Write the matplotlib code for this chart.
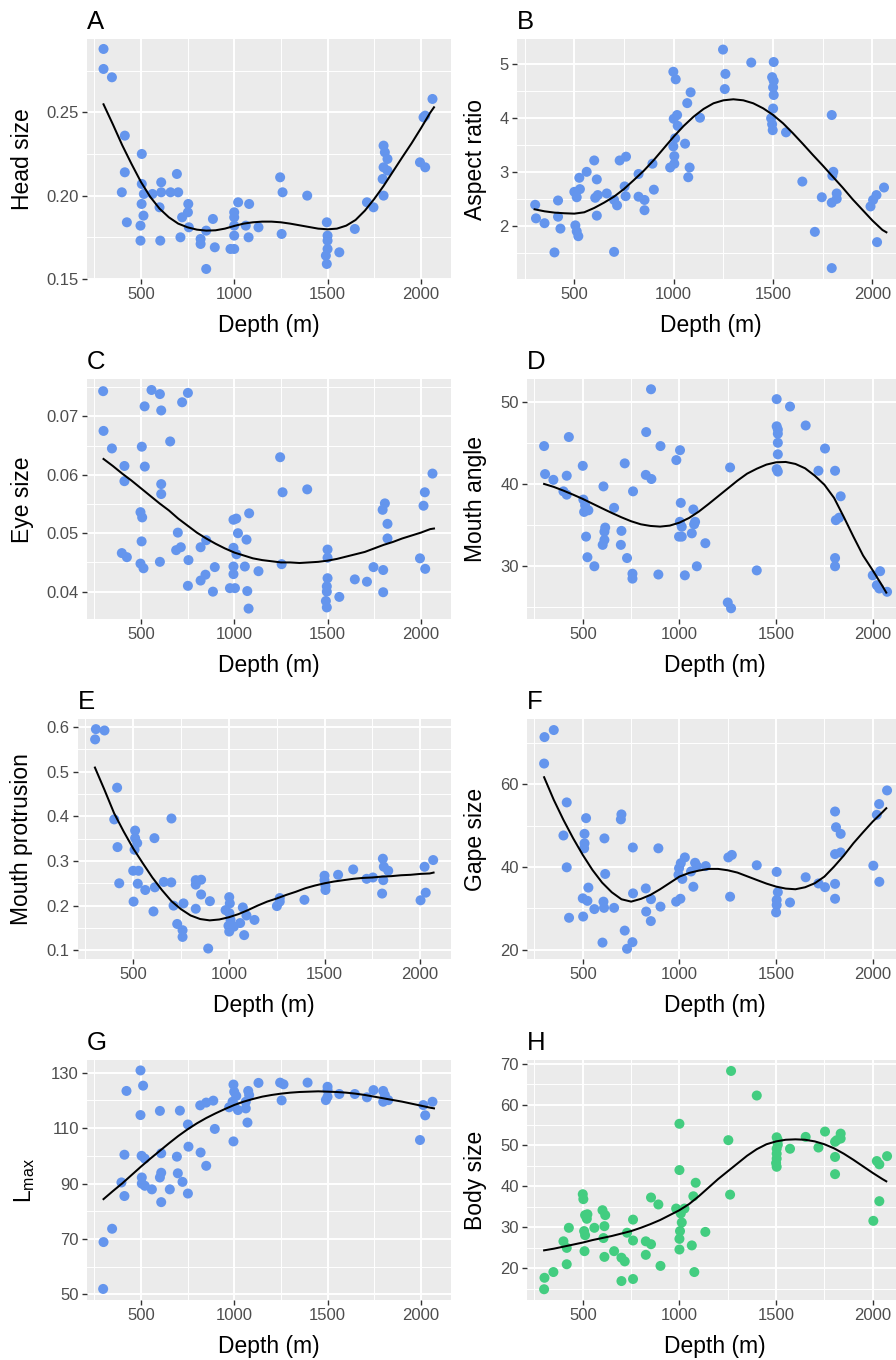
import matplotlib
matplotlib.use("Agg")
import matplotlib.pyplot as plt
from matplotlib.ticker import FixedLocator, FormatStrFormatter

plt.rcParams['font.family'] = ['Liberation Sans', 'DejaVu Sans']

curve_depth = [300, 350, 400, 450, 500, 550, 600, 650, 700, 750,
               800, 850, 900, 950, 1000, 1050, 1100, 1150, 1200, 1250,
               1300, 1350, 1400, 1450, 1500, 1550, 1600, 1650, 1700, 1750,
               1800, 1850, 1900, 1950, 2000, 2050, 2070]

# A - head size
head_depth = [300, 300, 345, 414, 505, 414, 398, 425, 505, 516,
              562, 504, 514, 498, 498, 609, 609, 659, 700, 693,
              600, 604, 754, 752, 721, 757, 712, 820, 820, 850,
              850, 886, 896, 980, 1000, 1000, 1000, 1000, 1000, 1021,
              1080, 1062, 1077, 1130, 1246, 1259, 1254, 1391, 1496, 1500,
              1500, 1500, 1491, 1496, 1563, 1646, 1711, 1746, 1800, 1807,
              1821, 1800, 1821, 1795, 1800, 1995, 2023, 2014, 2023, 2062]
head_size = [0.288, 0.276, 0.271, 0.236, 0.225, 0.214, 0.202, 0.184, 0.207, 0.201,
             0.201, 0.195, 0.188, 0.182, 0.173, 0.208, 0.202, 0.202, 0.202, 0.213,
             0.193, 0.173, 0.195, 0.190, 0.187, 0.181, 0.175, 0.174, 0.171, 0.179,
             0.156, 0.186, 0.169, 0.168, 0.168, 0.190, 0.187, 0.182, 0.176, 0.196,
             0.195, 0.182, 0.175, 0.181, 0.211, 0.202, 0.177, 0.200, 0.184, 0.176,
             0.173, 0.168, 0.164, 0.159, 0.166, 0.180, 0.196, 0.193, 0.230, 0.226,
             0.222, 0.217, 0.215, 0.210, 0.200, 0.220, 0.217, 0.247, 0.248, 0.258]
head_fit = [0.2548, 0.2428, 0.2303, 0.2190, 0.2083, 0.1993, 0.1922, 0.1870, 0.1832, 0.1810,
            0.1796, 0.1790, 0.1792, 0.1802, 0.1818, 0.1832, 0.1840, 0.1844, 0.1844, 0.1840,
            0.1832, 0.1822, 0.1812, 0.1802, 0.1798, 0.1802, 0.1820, 0.1854, 0.1910, 0.1980,
            0.2058, 0.2144, 0.2230, 0.2314, 0.2404, 0.2498, 0.2530]

# B - aspect ratio
aspect_depth = [303, 307, 350, 400, 418, 418, 430, 500, 512, 525,
                528, 505, 512, 520, 562, 600, 613, 605, 618, 613,
                663, 700, 715, 700, 728, 760, 753, 758, 823, 823,
                853, 853, 893, 900, 998, 1010, 1000, 1017, 1020, 1007,
                998, 1003, 1003, 982, 1057, 1068, 1085, 1080, 1073, 1132,
                1248, 1260, 1257, 1390, 1503, 1495, 1503, 1500, 1503, 1500,
                1490, 1495, 1498, 1565, 1647, 1710, 1745, 1795, 1803, 1798,
                1795, 1820, 1820, 1795, 1990, 2003, 2020, 2023, 2058]
aspect_ratio = [2.39, 2.14, 2.05, 1.51, 2.47, 2.17, 1.95, 2.63, 2.53, 2.89,
                2.68, 2.01, 1.90, 1.81, 3.00, 3.21, 2.86, 2.52, 2.57, 2.19,
                2.60, 2.48, 2.38, 1.52, 3.21, 3.28, 2.73, 2.55, 2.96, 2.54,
                2.48, 2.29, 3.15, 2.67, 4.85, 4.71, 3.98, 4.05, 3.85, 3.62,
                3.47, 3.29, 3.15, 3.08, 3.52, 4.27, 4.47, 3.08, 2.90, 4.00,
                5.26, 4.81, 4.53, 5.02, 5.03, 4.75, 4.68, 4.56, 4.42, 4.17,
                3.99, 3.88, 3.77, 3.73, 2.82, 1.89, 2.53, 4.05, 3.00, 2.93,
                2.43, 2.60, 2.50, 1.22, 2.36, 2.48, 2.57, 1.70, 2.71]
aspect_fit = [2.307, 2.270, 2.246, 2.234, 2.227, 2.252, 2.332, 2.431, 2.542, 2.683,
              2.850, 3.022, 3.219, 3.435, 3.651, 3.848, 4.020, 4.162, 4.267, 4.322,
              4.341, 4.322, 4.267, 4.174, 4.051, 3.897, 3.712, 3.515, 3.312, 3.115,
              2.911, 2.708, 2.492, 2.295, 2.098, 1.925, 1.882]

# C - eye size
eye_depth = [298, 300, 345, 412, 412, 398, 425, 505, 520, 521,
             498, 507, 504, 498, 514, 557, 602, 609, 609, 609,
             602, 657, 721, 752, 698, 689, 714, 755, 752, 820,
             850, 820, 846, 896, 886, 977, 1004, 996, 1011, 996,
             1012, 1020, 996, 996, 1066, 1080, 1057, 1070, 1077, 1130,
             1246, 1259, 1254, 1391, 1500, 1500, 1500, 1496, 1496, 1491,
             1496, 1563, 1646, 1711, 1746, 1798, 1798, 1807, 1795, 1821,
             1821, 1995, 2023, 2014, 2021, 2062]
eye_size = [0.0743, 0.0675, 0.0645, 0.0615, 0.0589, 0.0466, 0.0459, 0.0648, 0.0717, 0.0614,
            0.0536, 0.0527, 0.0486, 0.0448, 0.0440, 0.0745, 0.0738, 0.0710, 0.0584, 0.0567,
            0.0451, 0.0657, 0.0724, 0.0740, 0.0501, 0.0471, 0.0476, 0.0454, 0.0410, 0.0476,
            0.0488, 0.0419, 0.0429, 0.0442, 0.0400, 0.0406, 0.0406, 0.0523, 0.0525, 0.0475,
            0.0464, 0.0500, 0.0443, 0.0430, 0.0489, 0.0534, 0.0443, 0.0401, 0.0371, 0.0435,
            0.0630, 0.0570, 0.0447, 0.0575, 0.0472, 0.0458, 0.0423, 0.0409, 0.0400, 0.0384,
            0.0373, 0.0391, 0.0421, 0.0417, 0.0442, 0.0437, 0.0399, 0.0551, 0.0540, 0.0516,
            0.0491, 0.0457, 0.0439, 0.0547, 0.0570, 0.0602]
eye_fit = [0.0627, 0.0615, 0.0602, 0.0590, 0.0577, 0.0564, 0.0551, 0.0539, 0.0525, 0.0513,
           0.0501, 0.0491, 0.0482, 0.0474, 0.0467, 0.0462, 0.0457, 0.0454, 0.0452, 0.0450,
           0.0450, 0.0449, 0.0450, 0.0451, 0.0453, 0.0456, 0.0460, 0.0464, 0.0468, 0.0474,
           0.0480, 0.0485, 0.0491, 0.0496, 0.0501, 0.0507, 0.0508]

# D - mouth angle
mouth_depth = [300, 305, 348, 417, 428, 400, 417, 500, 503, 512,
               507, 529, 517, 524, 560, 607, 616, 612, 612, 603,
               662, 700, 697, 717, 729, 760, 757, 757, 828, 826,
               855, 853, 902, 891, 984, 1003, 1007, 1002, 1012, 998,
               1012, 1064, 1072, 1081, 1076, 1028, 1090, 1134, 1250, 1267,
               1262, 1400, 1503, 1503, 1509, 1509, 1509, 1509, 1503, 1509,
               1572, 1653, 1719, 1753, 1805, 1834, 1809, 1826, 1805, 1805,
               2000, 2038, 2021, 2034, 2074]
mouth_angle = [44.6, 41.2, 40.5, 41.0, 45.7, 39.1, 38.7, 42.2, 38.1, 37.4,
               36.6, 36.8, 33.6, 31.1, 30.0, 39.7, 34.7, 34.2, 33.2, 32.6,
               37.1, 34.3, 32.6, 42.5, 31.0, 39.1, 29.1, 28.5, 46.3, 41.1,
               40.6, 51.5, 44.6, 29.0, 42.9, 44.1, 37.7, 35.4, 34.8, 33.6,
               33.6, 34.0, 36.9, 35.4, 35.1, 28.9, 30.0, 32.8, 25.6, 24.9,
               42.0, 29.5, 50.3, 47.0, 46.6, 46.1, 45.0, 43.6, 41.8, 41.5,
               49.4, 47.1, 41.6, 44.3, 41.6, 38.5, 35.6, 35.9, 31.0, 30.0,
               28.9, 29.4, 27.7, 27.3, 26.9]
mouth_fit = [40.00, 39.64, 39.19, 38.70, 38.18, 37.61, 37.04, 36.48, 35.95, 35.47,
             35.10, 34.90, 34.82, 34.94, 35.30, 35.87, 36.64, 37.55, 38.50, 39.45,
             40.40, 41.25, 41.85, 42.35, 42.63, 42.67, 42.43, 41.90, 41.00, 39.90,
             38.30, 36.00, 33.60, 31.30, 29.50, 27.60, 26.80]

# E - mouth protrusion
protr_depth = [305, 301, 350, 416, 401, 418, 427, 510, 510, 521,
               507, 500, 528, 524, 502, 563, 611, 613, 606, 660,
               699, 700, 711, 763, 730, 758, 758, 827, 855, 827,
               855, 827, 901, 892, 983, 1002, 1005, 1003, 998, 1002,
               1009, 1026, 1059, 1073, 1092, 1080, 1134, 1251, 1266, 1266,
               1395, 1500, 1500, 1505, 1505, 1571, 1650, 1720, 1753, 1805,
               1810, 1833, 1807, 1801, 2002, 2029, 2023, 2068]
protrusion = [0.595, 0.572, 0.592, 0.464, 0.393, 0.331, 0.250, 0.368, 0.351, 0.340,
              0.325, 0.278, 0.278, 0.249, 0.209, 0.235, 0.351, 0.241, 0.187, 0.253,
              0.252, 0.395, 0.200, 0.205, 0.159, 0.145, 0.130, 0.257, 0.258, 0.247,
              0.225, 0.193, 0.210, 0.104, 0.190, 0.219, 0.205, 0.183, 0.155, 0.142,
              0.168, 0.153, 0.161, 0.196, 0.178, 0.134, 0.168, 0.199, 0.209, 0.217,
              0.213, 0.267, 0.257, 0.244, 0.235, 0.269, 0.281, 0.260, 0.263, 0.305,
              0.287, 0.278, 0.257, 0.227, 0.212, 0.229, 0.287, 0.302]
protr_fit = [0.509, 0.459, 0.407, 0.366, 0.328, 0.295, 0.263, 0.235, 0.210, 0.192,
             0.178, 0.170, 0.167, 0.169, 0.174, 0.181, 0.190, 0.200, 0.209, 0.216,
             0.224, 0.231, 0.239, 0.245, 0.250, 0.254, 0.257, 0.260, 0.262, 0.263,
             0.265, 0.266, 0.268, 0.269, 0.271, 0.272, 0.274]

# F - gape size
gape_depth = [302, 350, 300, 417, 400, 417, 429, 517, 509, 509,
              507, 529, 500, 524, 502, 560, 612, 616, 607, 610,
              602, 662, 700, 697, 759, 760, 717, 729, 757, 826,
              853, 828, 852, 891, 902, 983, 1005, 1007, 998, 995,
              1015, 1028, 1060, 1072, 1081, 1090, 1136, 1253, 1271, 1262,
              1400, 1503, 1509, 1503, 1503, 1500, 1572, 1653, 1719, 1753,
              1805, 1810, 1834, 1805, 1834, 1805, 1805, 2003, 2034, 2021,
              2033, 2074]
gape_size = [71.4, 73.1, 65.0, 55.6, 47.6, 39.9, 27.7, 51.8, 48.0, 45.7,
             44.5, 35.0, 32.4, 31.8, 28.0, 29.8, 46.9, 38.3, 31.6, 30.1,
             21.7, 30.1, 52.7, 51.5, 44.7, 33.6, 24.6, 20.2, 21.8, 34.8,
             32.2, 29.2, 26.9, 44.5, 30.4, 31.6, 32.3, 40.9, 39.7, 38.1,
             37.1, 42.3, 38.9, 35.2, 41.0, 40.2, 40.2, 42.3, 42.9, 32.8,
             40.4, 38.8, 33.9, 32.0, 30.8, 29.0, 31.4, 37.5, 36.0, 35.1,
             53.4, 49.6, 48.0, 43.1, 43.5, 35.9, 32.3, 40.3, 36.4, 52.6,
             55.2, 58.5]
gape_fit = [61.69, 56.21, 51.37, 46.94, 42.90, 39.27, 36.21, 33.87, 32.18, 31.61,
            32.26, 33.23, 34.60, 36.13, 37.66, 38.55, 39.11, 39.52, 39.52, 39.19,
            38.63, 37.74, 36.85, 35.97, 35.24, 34.76, 34.60, 35.08, 36.05, 37.66,
            40.08, 42.74, 45.73, 48.39, 50.97, 53.23, 54.19]

# G - Lmax
lmax_depth = [298, 300, 346, 396, 412, 412, 423, 498, 512, 498,
              504, 521, 505, 505, 521, 559, 602, 609, 609, 602,
              609, 655, 709, 752, 755, 693, 698, 723, 752, 818,
              850, 888, 820, 850, 896, 996, 1000, 1011, 991, 973,
              1000, 1020, 996, 1062, 1075, 1080, 1062, 1071, 1130, 1246,
              1264, 1254, 1393, 1500, 1500, 1500, 1491, 1563, 1646, 1711,
              1746, 1798, 1807, 1798, 1825, 1995, 2013, 2023, 2062]
lmax = [52.0, 68.9, 73.7, 90.4, 85.5, 100.4, 123.4, 130.8, 125.3, 114.7,
        100.0, 99.0, 92.2, 90.0, 89.2, 87.9, 116.2, 100.9, 93.9, 92.2,
        83.3, 87.9, 116.3, 111.3, 103.3, 99.7, 93.7, 90.6, 86.4, 118.2,
        119.2, 119.9, 101.2, 96.4, 109.7, 125.7, 123.1, 121.6, 119.5, 117.5,
        118.3, 116.5, 105.2, 117.1, 123.4, 121.9, 119.5, 112.0, 126.3, 126.4,
        125.8, 120.0, 126.4, 124.9, 123.7, 121.3, 120.1, 122.3, 122.3, 121.1,
        123.7, 123.4, 121.9, 119.5, 120.1, 105.7, 118.3, 114.6, 119.5]
lmax_fit = [84.39, 87.28, 90.05, 93.06, 96.07, 98.95, 101.72, 104.49, 107.14, 109.54,
            111.71, 113.63, 115.32, 116.88, 118.33, 119.53, 120.49, 121.34, 121.94, 122.42,
            122.78, 123.02, 123.14, 123.26, 123.14, 123.02, 122.78, 122.42, 121.94, 121.34,
            120.73, 120.13, 119.53, 118.81, 118.09, 117.36, 117.12]

# H - body size
body_depth = [300, 302, 348, 400, 417, 417, 428, 500, 503, 512,
              524, 521, 507, 512, 509, 560, 602, 616, 612, 607,
              612, 662, 729, 700, 717, 700, 760, 760, 760, 826,
              853, 853, 826, 891, 902, 983, 1000, 1000, 1007, 1012,
              1003, 1000, 1000, 1026, 1072, 1084, 1064, 1077, 1134, 1253,
              1267, 1262, 1400, 1503, 1509, 1509, 1503, 1503, 1503, 1500,
              1503, 1572, 1653, 1719, 1753, 1834, 1834, 1805, 1814, 1805,
              1805, 2003, 2034, 2021, 2034, 2074]
body_size = [14.9, 17.7, 19.1, 26.6, 25.0, 21.0, 29.9, 38.1, 36.9, 33.0,
             33.2, 32.1, 29.1, 28.1, 24.2, 29.9, 34.2, 33.0, 30.3, 27.4,
             22.8, 24.2, 28.7, 22.6, 21.7, 16.9, 31.9, 26.8, 17.4, 26.6,
             25.9, 37.3, 23.3, 35.6, 20.6, 34.6, 55.3, 44.0, 33.4, 31.2,
             29.1, 27.2, 24.6, 34.6, 37.6, 40.9, 25.6, 19.1, 28.9, 51.3,
             68.2, 38.0, 62.2, 52.0, 51.3, 50.2, 49.2, 48.0, 46.8, 45.7,
             44.8, 49.2, 52.1, 49.5, 53.4, 52.9, 51.7, 50.9, 51.3, 47.2,
             43.0, 31.6, 36.4, 46.2, 45.4, 47.4]
body_fit = [24.40, 24.80, 25.30, 25.80, 26.30, 26.90, 27.40, 27.90, 28.50, 29.10,
            29.90, 30.80, 31.80, 33.00, 34.20, 35.70, 37.60, 39.70, 41.80, 43.70,
            45.60, 47.50, 49.10, 50.30, 51.00, 51.40, 51.50, 51.40, 51.00, 50.30,
            49.30, 48.00, 46.50, 44.90, 43.30, 41.80, 41.25]

BLUE = '#6495ED'
GREEN = '#43CD80'
W, H = 896, 1360

# tag, x, y, fit, ylabel, colour, (left px, top px, width px), ylim, major, minor, fmt, ylabel centre px
panels = [
    ('A', head_depth, head_size, head_fit, 'Head size', BLUE, (87, 39.3, 363.5),
     (0.1498, 0.2938), [0.15, 0.20, 0.25], [0.175, 0.225, 0.275], '%.2f', 22.7),
    ('B', aspect_depth, aspect_ratio, aspect_fit, 'Aspect ratio', BLUE, (517, 39.3, 387),
     (1.013, 5.45), [2, 3, 4, 5], [1.5, 2.5, 3.5, 4.5], '%d', 475.7),
    ('C', eye_depth, eye_size, eye_fit, 'Eye size', BLUE, (87, 379.3, 363.5),
     (0.03527, 0.07633), [0.04, 0.05, 0.06, 0.07], [0.045, 0.055, 0.065, 0.075], '%.2f', 22.7),
    ('D', mouth_depth, mouth_angle, mouth_fit, 'Mouth angle', BLUE, (527, 379.3, 376.4),
     (23.56, 52.71), [30, 40, 50], [25, 35, 45], '%d', 475.7),
    ('E', protr_depth, protrusion, protr_fit, 'Mouth protrusion', BLUE, (78, 719.3, 372.5),
     (0.0799, 0.617), [0.1, 0.2, 0.3, 0.4, 0.5, 0.6], [0.15, 0.25, 0.35, 0.45, 0.55], '%.1f', 21.7),
    ('F', gape_depth, gape_size, gape_fit, 'Gape size', BLUE, (527, 719.3, 376.4),
     (17.66, 75.7), [20, 40, 60], [30, 50, 70], '%d', 475.7),
    ('G', lmax_depth, lmax, lmax_fit, r'$\mathregular{L_{max}}$', BLUE, (87, 1060.3, 363.5),
     (47.9, 134.45), [50, 70, 90, 110, 130], [60, 80, 100, 120], '%d', 25),
    ('H', body_depth, body_size, body_fit, 'Body size', GREEN, (527, 1060.3, 376.4),
     (12.2, 70.8), [20, 30, 40, 50, 60, 70], [15, 25, 35, 45, 55, 65], '%d', 475.7),
]

fig = plt.figure(figsize=(W / 100, H / 100), dpi=100)

for tag, xs, ys, fit, ylab, col, (lp, tp, wp), ylim, major, minor, fmt, ylx in panels:
    ax = fig.add_axes([lp / W, 1 - (tp + 240) / H, wp / W, 240 / H])
    ax.set_facecolor('#EBEBEB')
    for s in ax.spines.values():
        s.set_visible(False)

    ax.scatter(xs, ys, s=52, color=col, edgecolors='none', zorder=2)
    ax.plot(curve_depth, fit, color='black', lw=1.45, zorder=3)

    ax.set_xlim(211.5, 2158.5)
    ax.set_ylim(*ylim)
    ax.xaxis.set_major_locator(FixedLocator([500, 1000, 1500, 2000]))
    ax.xaxis.set_minor_locator(FixedLocator([250, 750, 1250, 1750]))
    ax.yaxis.set_major_locator(FixedLocator(major))
    ax.yaxis.set_minor_locator(FixedLocator(minor))
    ax.yaxis.set_major_formatter(FormatStrFormatter(fmt))

    ax.grid(which='major', color='white', lw=1.4)
    ax.grid(which='minor', color='white', lw=0.7)
    ax.set_axisbelow(True)
    ax.tick_params(which='major', length=3.5, width=1.0, color='#333333',
                   labelcolor='#4D4D4D', labelsize=12)
    ax.tick_params(axis='x', pad=1.8)
    ax.tick_params(axis='y', pad=2.4)
    ax.tick_params(which='minor', length=0)

    ax.set_xlabel('Depth (m)', fontsize=16.5, va='baseline')
    ax.xaxis.set_label_coords(0.5, -(332 - 279.3) / 240)
    ax.set_ylabel(ylab, fontsize=16.5, va='center')
    ax.yaxis.set_label_coords((ylx - lp) / wp, 0.5)

    ax.text(0, 1 + (39.3 - 29) / 240, tag, transform=ax.transAxes,
            fontsize=18.5, ha='left', va='baseline')

fig.savefig('out.png', dpi=100)
